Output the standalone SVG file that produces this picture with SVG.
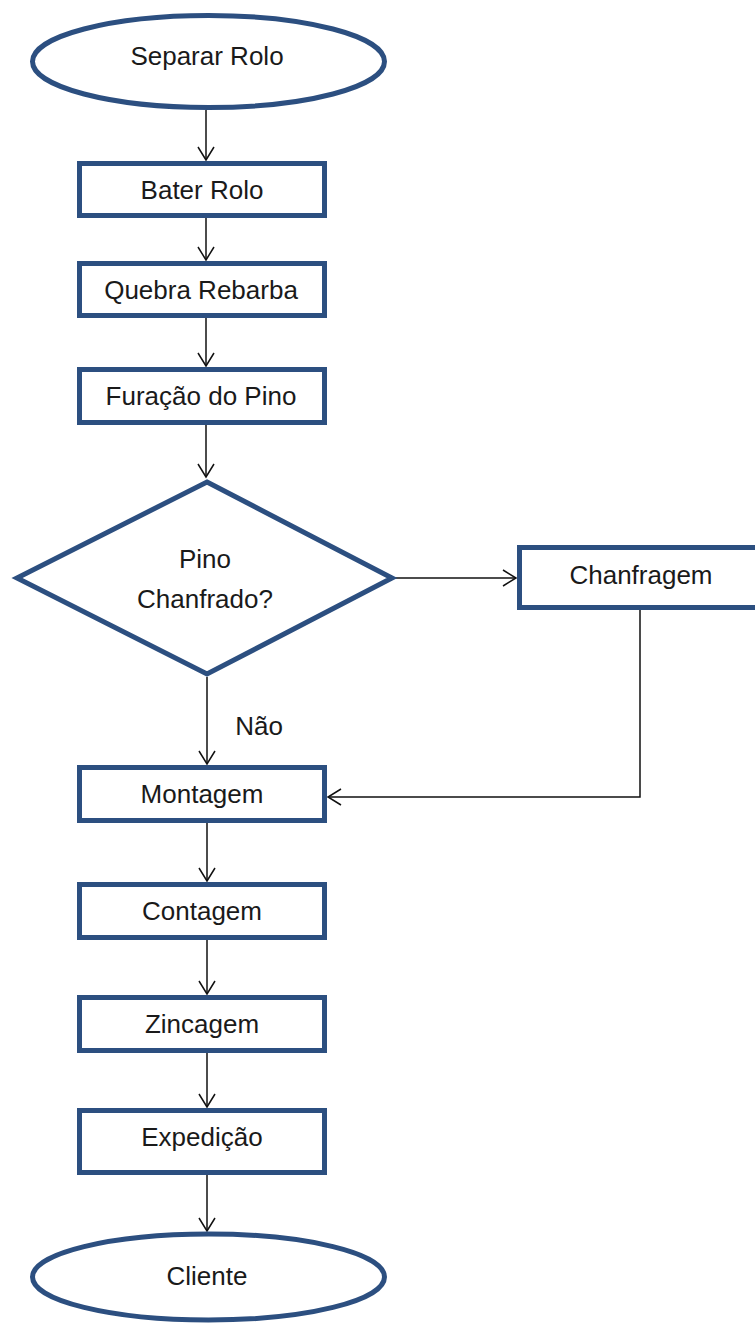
<svg xmlns="http://www.w3.org/2000/svg" width="755" height="1327" viewBox="0 0 755 1327">
<style>
.n{fill:#fff;stroke:#2C4F80;stroke-width:5}
.t{font-family:"Liberation Sans",Arial,sans-serif;font-size:26px;fill:#1a1a1a;text-anchor:middle}
.c{fill:none;stroke:#111;stroke-width:1.5}
</style>
<defs>
<marker id="a" markerUnits="userSpaceOnUse" markerWidth="16" markerHeight="20" viewBox="0 0 16 20" refX="14" refY="10" orient="auto">
<path d="M1,2 L14,10 L1,18" fill="none" stroke="#111" stroke-width="1.5"/>
</marker>
</defs>
<rect width="755" height="1327" fill="#fff"/>
<g id="connectors">
<path class="c" d="M206,110 V160" marker-end="url(#a)"/>
<path class="c" d="M206,218 V260" marker-end="url(#a)"/>
<path class="c" d="M206,318 V366" marker-end="url(#a)"/>
<path class="c" d="M206,425 V477" marker-end="url(#a)"/>
<path class="c" d="M395,578 H516" marker-end="url(#a)"/>
<path class="c" d="M207,677 V764" marker-end="url(#a)"/>
<path class="c" d="M640,610 V797 H328" marker-end="url(#a)"/>
<path class="c" d="M207,823 V881" marker-end="url(#a)"/>
<path class="c" d="M207,940 V994" marker-end="url(#a)"/>
<path class="c" d="M207,1053 V1107" marker-end="url(#a)"/>
<path class="c" d="M207,1175 V1231" marker-end="url(#a)"/>
</g>
<g id="separar"><ellipse class="n" cx="208.5" cy="61.5" rx="176" ry="46"/><text class="t" x="207" y="65">Separar Rolo</text></g>
<g id="bater"><rect class="n" x="79.5" y="163.5" width="245" height="52"/><text class="t" x="202" y="199">Bater Rolo</text></g>
<g id="quebra"><rect class="n" x="79.5" y="263.5" width="245" height="52"/><text class="t" x="201" y="299">Quebra Rebarba</text></g>
<g id="furacao"><rect class="n" x="79.5" y="369.5" width="245" height="53"/><text class="t" x="201" y="405">Furação do Pino</text></g>
<g id="decisao"><polygon class="n" points="207,482 392,578 207,674 17,578"/><text class="t" x="205" y="568">Pino</text><text class="t" x="205" y="608">Chanfrado?</text></g>
<g id="chanfragem"><rect class="n" x="519.5" y="547.5" width="250" height="60"/><text class="t" x="641" y="584">Chanfragem</text></g>
<g id="nao-label"><text class="t" x="259" y="735">Não</text></g>
<g id="montagem"><rect class="n" x="79.5" y="767.5" width="245" height="53"/><text class="t" x="202" y="803">Montagem</text></g>
<g id="contagem"><rect class="n" x="79.5" y="884.5" width="245" height="53"/><text class="t" x="202" y="920">Contagem</text></g>
<g id="zincagem"><rect class="n" x="79.5" y="997.5" width="245" height="53"/><text class="t" x="202" y="1033">Zincagem</text></g>
<g id="expedicao"><rect class="n" x="79.5" y="1110.5" width="245" height="62"/><text class="t" x="202" y="1146">Expedição</text></g>
<g id="cliente"><ellipse class="n" cx="208.5" cy="1277" rx="176" ry="43"/><text class="t" x="207" y="1285">Cliente</text></g>
</svg>
